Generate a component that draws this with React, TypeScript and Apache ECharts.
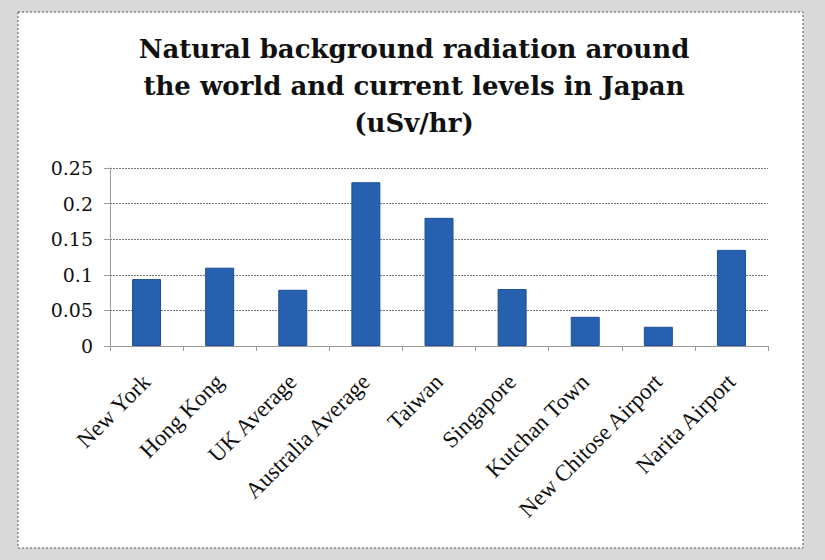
import React, { useEffect, useRef } from "react";
import * as echarts from "echarts";

const categories = [
  "New York",
  "Hong Kong",
  "UK Average",
  "Australia Average",
  "Taiwan",
  "Singapore",
  "Kutchan Town",
  "New Chitose Airport",
  "Narita Airport",
];
const values = [0.094, 0.11, 0.079, 0.23, 0.18, 0.08, 0.041, 0.027, 0.135];
const titleText = "Natural background radiation around\nthe world and current levels in Japan\n(uSv/hr)";

export default function App() {
  const ref = useRef<HTMLDivElement>(null);
  useEffect(() => {
    if (!ref.current) return;
    const chart = echarts.init(ref.current, undefined, { renderer: "svg" });
    const serif = "'Liberation Serif', 'DejaVu Serif', serif";
    const wideSerif = "'DejaVu Serif', 'Liberation Serif', serif";
    chart.setOption({
      animation: false,
      backgroundColor: "#d9d9d9",
      graphic: [
        {
          type: "rect",
          shape: { x: 18, y: 12, width: 785, height: 536 },
          style: { fill: "#ffffff", stroke: "#555555", lineWidth: 1, lineDash: [2, 2] },
          z: -10,
        },
      ],
      title: {
        text: titleText,
        left: 409,
        textAlign: "center",
        top: 25,
        textStyle: {
          fontFamily: wideSerif,
          fontWeight: "bold",
          fontSize: 26,
          lineHeight: 37,
          color: "#111111",
        },
      },
      grid: { left: 110, right: 57, top: 168, bottom: 214 },
      xAxis: {
        type: "category",
        data: categories,
        axisLine: { lineStyle: { color: "#999999", width: 1 } },
        axisTick: { show: true, length: 5, lineStyle: { color: "#999999" } },
        axisLabel: {
          rotate: 45,
          interval: 0,
          fontFamily: serif,
          fontSize: 23,
          color: "#111111",
          margin: 32,
        },
      },
      yAxis: {
        type: "value",
        min: 0,
        max: 0.25,
        interval: 0.05,
        axisLine: { show: true, lineStyle: { color: "#999999", width: 1 } },
        axisTick: { show: true, length: 6, lineStyle: { color: "#999999" } },
        axisLabel: {
          fontFamily: wideSerif,
          fontSize: 19,
          color: "#111111",
          margin: 17,
        },
        splitLine: { lineStyle: { color: "#777777", type: [2, 1], width: 1 } },
      },
      series: [
        {
          type: "bar",
          data: values,
          barWidth: 29,
          itemStyle: { color: "#2860b0", borderColor: "#1e4f98", borderWidth: 1 },
        },
      ],
    });
    return () => chart.dispose();
  }, []);
  return <div ref={ref} style={{ width: 825, height: 560, position: "absolute", left: 0, top: 0 }} />;
}
